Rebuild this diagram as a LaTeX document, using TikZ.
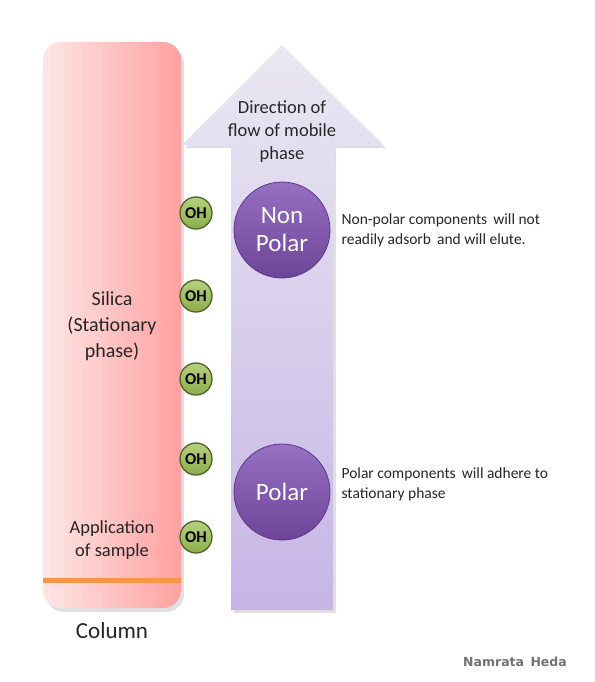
\documentclass[tikz,border=0pt]{standalone}
\usepackage{fontspec}
\setmainfont{Carlito}
\newfontfamily\signfont{DejaVu Sans}
\usetikzlibrary{positioning}

\definecolor{silicaleft}{HTML}{FDE6E6}
\definecolor{silicaright}{HTML}{FFA0A0}
\definecolor{sampleline}{HTML}{F79646}
\definecolor{flowtop}{HTML}{EAE8F2}
\definecolor{flowbottom}{HTML}{C6B5E6}
\definecolor{balltop}{HTML}{9670C2}
\definecolor{ballbottom}{HTML}{6E4499}
\definecolor{balledge}{HTML}{5B3785}
\definecolor{ohtop}{HTML}{B5D07E}
\definecolor{ohbottom}{HTML}{8DAE4C}
\definecolor{ohedge}{HTML}{4F6228}

\begin{document}
\begin{tikzpicture}[x=1pt, y=-1pt]
	\useasboundingbox[fill=white] (0,0) rectangle (594,682);

	% column and mobile phase arrow
	\fill[black!12, rounded corners=18pt] (46,46) rectangle (184,612);
	\shade[left color=silicaleft, right color=silicaright, rounded corners=18pt]
		(43,42) rectangle (181,608);
	\fill[sampleline] (43,578) rectangle (181,583);

	\fill[black!12] (234,148) -- (185,148) -- (285,48) -- (386,148) -- (336,148) -- (336,613) -- (234,613) -- cycle;
	\shade[top color=flowtop, bottom color=flowbottom]
		(231,145) -- (182,145) -- (282,45) -- (383,145) -- (333,145) -- (333,610) -- (231,610) -- cycle;

	\begin{scope}[every node/.style={align=center, inner sep=0pt, text=black!85}]
		\node[font=\fontsize{20}{26}\selectfont] (silica) at (112,326) {Silica\\(Stationary\\phase)};
		\node[font=\fontsize{18.5}{23}\selectfont] (sample) at (112,540) {Application\\of sample};
		\node[font=\fontsize{23}{24}\selectfont] (column) at (112,631) {Column};
		\node[font=\fontsize{18.5}{23}\selectfont] (flow) at (282,132) {Direction of\\flow of mobile\\phase};
	\end{scope}

	% OH groups on the silica
	\begin{scope}[every node/.style={circle, draw=ohedge, line width=1.3pt, top color=ohtop,
	              bottom color=ohbottom, minimum size=32pt, inner sep=0pt,
	              font=\fontsize{16.5}{16.5}\selectfont\bfseries}]
		\node (oh1) at (196,213) {OH};
		\node (oh2) at (196,296) {OH};
		\node (oh3) at (196,379) {OH};
		\node (oh4) at (196,459) {OH};
		\node (oh5) at (196,537) {OH};
	\end{scope}

	% components
	\begin{scope}[every node/.style={circle, draw=balledge, line width=0.8pt, top color=balltop,
	              bottom color=ballbottom, minimum size=96pt, inner sep=0pt, align=center,
	              text=white, font=\fontsize{25}{28}\selectfont}]
		\node (nonpolar) at (282,230) {Non\\Polar};
		\node (polar) at (282,492) {Polar};
	\end{scope}

	\begin{scope}[every node/.style={align=left, inner sep=0pt, text=black!85,
	              font=\fontsize{15.5}{20}\selectfont}]
		\node[right=11pt of nonpolar] (nonpolarnote) {Non-polar components\, will not\\readily adsorb\, and will elute.};
		\node[right=11pt of polar, yshift=8pt] (polarnote) {Polar components\, will adhere to\\stationary phase};
	\end{scope}

	\node[text=black!55, font=\signfont\bfseries\fontsize{12.5}{12.5}\selectfont] (sign) at (515,662) {Namrata\, Heda};
\end{tikzpicture}
\end{document}
